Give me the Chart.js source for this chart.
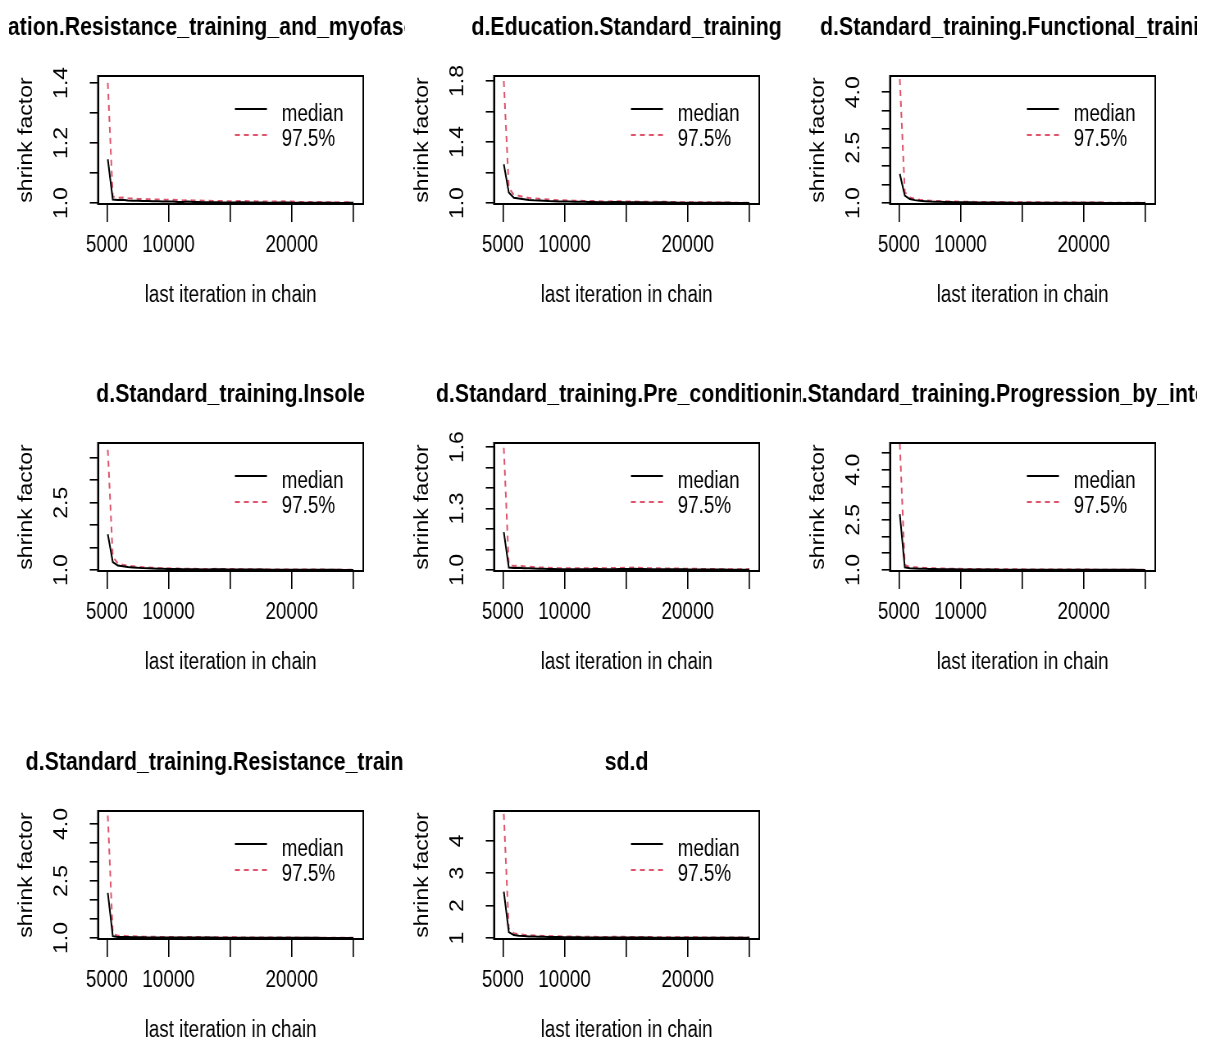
<!DOCTYPE html>
<html><head><meta charset="utf-8">
<script src="https://cdn.jsdelivr.net/npm/chart.js@4.4.0/dist/chart.umd.min.js"></script>
<style>
html,body{margin:0;padding:0;background:#fff;overflow:hidden;}
#wrap{position:relative;width:1215px;height:1044px;overflow:hidden;background:#fff;}
.panel{position:absolute;width:396px;height:367px;overflow:hidden;}
.panel canvas{position:absolute;left:0;top:0;transform:scaleX(0.82);transform-origin:0 0;}
</style></head><body><div id="wrap"></div>
<script>
// ---- data ----
const iterations = [5070,5477,5884,6290,6697,7104,7511,7918,8324,8731,9138,9545,9952,10358,10765,11172,11579,11986,12392,12799,13206,13613,14020,14426,14833,15240,15647,16053,16460,16867,17274,17681,18087,18494,18901,19308,19715,20121,20528,20935,21342,21749,22155,22562,22969,23376,23783,24189,24596,25003];

const titles = ["d.Education.Resistance_training_and_myofascial_release","d.Education.Standard_training","d.Standard_training.Functional_training","d.Standard_training.Insole","d.Standard_training.Pre_conditioning","d.Standard_training.Progression_by_intensity","d.Standard_training.Resistance_training","sd.d"];

const median1 = [1.146,1.012,1.010,1.011,1.009,1.008,1.008,1.007,1.007,1.006,1.006,1.005,1.005,1.005,1.004,1.004,1.005,1.004,1.004,1.003,1.003,1.003,1.003,1.002,1.002,1.002,1.003,1.003,1.002,1.002,1.002,1.002,1.001,1.001,1.002,1.002,1.002,1.001,1.001,1.001,1.001,1.001,1.001,1.001,1.001,1.001,1.000,1.000,1.001,1.001];
const upper1 = [1.400,1.022,1.018,1.019,1.016,1.015,1.014,1.013,1.013,1.012,1.012,1.011,1.011,1.011,1.010,1.009,1.010,1.009,1.009,1.008,1.008,1.007,1.007,1.007,1.006,1.006,1.007,1.007,1.006,1.006,1.005,1.005,1.005,1.005,1.005,1.006,1.005,1.005,1.004,1.004,1.004,1.004,1.004,1.003,1.003,1.003,1.003,1.003,1.003,1.003];
const median2 = [1.254,1.070,1.035,1.030,1.025,1.020,1.018,1.017,1.015,1.013,1.012,1.011,1.010,1.010,1.009,1.008,1.008,1.007,1.007,1.006,1.006,1.006,1.007,1.007,1.006,1.006,1.005,1.005,1.005,1.004,1.004,1.005,1.005,1.004,1.004,1.003,1.003,1.003,1.003,1.003,1.002,1.002,1.002,1.002,1.002,1.002,1.001,1.001,1.001,1.001];
const upper2 = [1.800,1.100,1.055,1.048,1.040,1.034,1.030,1.028,1.025,1.023,1.021,1.019,1.018,1.017,1.016,1.015,1.014,1.013,1.013,1.012,1.011,1.011,1.013,1.012,1.011,1.011,1.010,1.009,1.009,1.008,1.008,1.009,1.008,1.008,1.007,1.006,1.006,1.006,1.006,1.005,1.005,1.005,1.004,1.004,1.004,1.004,1.003,1.003,1.003,1.003];
const median3 = [1.790,1.200,1.110,1.080,1.060,1.050,1.042,1.038,1.034,1.030,1.028,1.025,1.023,1.021,1.020,1.018,1.017,1.016,1.015,1.014,1.013,1.013,1.012,1.012,1.011,1.011,1.010,1.010,1.010,1.009,1.009,1.008,1.008,1.008,1.007,1.007,1.007,1.006,1.006,1.006,1.006,1.005,1.005,1.005,1.005,1.004,1.004,1.004,1.004,1.004];
const upper3 = [4.360,1.300,1.150,1.110,1.090,1.075,1.065,1.058,1.052,1.048,1.044,1.041,1.038,1.036,1.034,1.032,1.030,1.029,1.027,1.026,1.025,1.024,1.023,1.022,1.021,1.021,1.020,1.019,1.019,1.018,1.017,1.017,1.016,1.016,1.015,1.015,1.014,1.014,1.013,1.013,1.013,1.012,1.012,1.012,1.011,1.011,1.011,1.010,1.010,1.010];
const median4 = [1.800,1.180,1.100,1.085,1.070,1.060,1.050,1.044,1.040,1.036,1.032,1.029,1.026,1.024,1.022,1.020,1.019,1.018,1.017,1.016,1.016,1.017,1.018,1.017,1.016,1.015,1.014,1.013,1.012,1.012,1.011,1.011,1.010,1.010,1.009,1.009,1.009,1.008,1.008,1.008,1.007,1.007,1.007,1.006,1.006,1.006,1.006,1.005,1.005,1.005];
const upper4 = [3.680,1.300,1.150,1.120,1.100,1.085,1.072,1.064,1.058,1.052,1.047,1.043,1.040,1.037,1.034,1.031,1.029,1.028,1.026,1.025,1.025,1.027,1.028,1.026,1.025,1.023,1.022,1.021,1.020,1.019,1.018,1.017,1.016,1.016,1.015,1.015,1.014,1.014,1.013,1.013,1.012,1.012,1.011,1.011,1.010,1.010,1.010,1.009,1.009,1.009];
const median5 = [1.185,1.012,1.010,1.011,1.009,1.008,1.007,1.006,1.006,1.005,1.005,1.004,1.004,1.004,1.003,1.004,1.004,1.004,1.005,1.005,1.004,1.004,1.004,1.005,1.005,1.005,1.006,1.005,1.005,1.004,1.004,1.004,1.003,1.003,1.003,1.003,1.003,1.002,1.002,1.002,1.002,1.002,1.002,1.002,1.002,1.001,1.001,1.001,1.001,1.001];
const upper5 = [1.597,1.025,1.020,1.021,1.018,1.016,1.015,1.013,1.012,1.011,1.010,1.009,1.009,1.009,1.008,1.008,1.009,1.009,1.010,1.010,1.009,1.009,1.010,1.010,1.011,1.011,1.012,1.011,1.010,1.009,1.009,1.008,1.007,1.007,1.007,1.007,1.006,1.006,1.006,1.005,1.005,1.005,1.005,1.004,1.004,1.004,1.004,1.004,1.003,1.003];
const median6 = [2.670,1.080,1.050,1.045,1.040,1.035,1.030,1.028,1.025,1.023,1.021,1.020,1.018,1.017,1.016,1.015,1.014,1.013,1.012,1.012,1.011,1.011,1.010,1.010,1.009,1.009,1.009,1.008,1.008,1.008,1.007,1.007,1.007,1.006,1.006,1.006,1.006,1.005,1.005,1.005,1.005,1.005,1.004,1.004,1.004,1.004,1.004,1.004,1.003,1.003];
const upper6 = [4.780,1.150,1.090,1.080,1.070,1.062,1.055,1.050,1.046,1.042,1.039,1.036,1.034,1.032,1.030,1.028,1.027,1.025,1.024,1.023,1.022,1.021,1.020,1.019,1.019,1.018,1.017,1.017,1.016,1.016,1.015,1.015,1.014,1.014,1.013,1.013,1.012,1.012,1.012,1.011,1.011,1.011,1.010,1.010,1.010,1.010,1.009,1.009,1.009,1.009];
const median7 = [2.190,1.050,1.030,1.028,1.025,1.022,1.020,1.018,1.017,1.016,1.015,1.014,1.013,1.013,1.012,1.012,1.013,1.014,1.015,1.014,1.013,1.012,1.011,1.011,1.010,1.010,1.009,1.009,1.008,1.008,1.008,1.007,1.007,1.007,1.006,1.006,1.006,1.006,1.005,1.005,1.005,1.005,1.005,1.004,1.004,1.004,1.004,1.004,1.003,1.003];
const upper7 = [4.220,1.110,1.060,1.055,1.050,1.045,1.040,1.037,1.034,1.032,1.030,1.028,1.026,1.025,1.024,1.023,1.025,1.027,1.028,1.026,1.024,1.023,1.022,1.021,1.020,1.019,1.018,1.017,1.016,1.016,1.015,1.014,1.014,1.013,1.013,1.012,1.012,1.012,1.011,1.011,1.011,1.010,1.010,1.010,1.009,1.009,1.009,1.009,1.008,1.008];
const median8 = [2.430,1.180,1.090,1.070,1.060,1.050,1.045,1.040,1.036,1.033,1.030,1.028,1.026,1.024,1.022,1.021,1.020,1.019,1.018,1.017,1.016,1.016,1.017,1.018,1.017,1.016,1.015,1.014,1.013,1.013,1.012,1.012,1.011,1.011,1.010,1.010,1.010,1.009,1.009,1.009,1.008,1.008,1.008,1.008,1.007,1.007,1.007,1.007,1.006,1.006];
const upper8 = [4.830,1.300,1.150,1.120,1.100,1.088,1.080,1.072,1.066,1.061,1.057,1.053,1.050,1.047,1.044,1.042,1.040,1.038,1.036,1.035,1.034,1.035,1.037,1.038,1.036,1.034,1.032,1.031,1.029,1.028,1.027,1.026,1.025,1.024,1.023,1.023,1.022,1.021,1.021,1.020,1.020,1.019,1.019,1.018,1.018,1.017,1.017,1.017,1.016,1.016];

const medians = [median1,median2,median3,median4,median5,median6,median7,median8];
const uppers  = [upper1,upper2,upper3,upper4,upper5,upper6,upper7,upper8];

const yMin = [0.997,0.994,0.975,0.98,0.995,0.97,0.975,0.97];
const yMax = [1.423,1.833,4.44,3.83,1.62,4.8,4.34,4.92];
const yTicks = [
  [1.0,1.1,1.2,1.3,1.4],
  [1.0,1.2,1.4,1.6,1.8],
  [1.0,1.5,2.0,2.5,3.0,3.5,4.0],
  [1.0,1.5,2.0,2.5,3.0,3.5],
  [1.0,1.1,1.2,1.3,1.4,1.5,1.6],
  [1.0,1.5,2.0,2.5,3.0,3.5,4.0,4.5],
  [1.0,1.5,2.0,2.5,3.0,3.5,4.0],
  [1,2,3,4]
];
const yTickLabels = [
  ["1.0","","1.2","","1.4"],
  ["1.0","","1.4","","1.8"],
  ["1.0","","","2.5","","","4.0"],
  ["1.0","","","2.5","",""],
  ["1.0","","","1.3","","","1.6"],
  ["1.0","","","2.5","","","4.0",""],
  ["1.0","","","2.5","","","4.0"],
  ["1","2","3","4"]
];
const xRange = [4274, 25806];
const xTicks = [5000,10000,15000,20000,25000];
const xTickLabels = ["5000","10000","","20000",""];
const seriesNames = ["median","97.5%"];
const xTitle = "last iteration in chain";
const yTitle = "shrink factor";

// ---- drawing ----
const FONT = "'Liberation Sans', Arial, Helvetica, sans-serif";
const RED = '#DF536B';

const rPlotPlugin = {
  id: 'rplot',
  afterDraw(chart, args, opts) {
    const {ctx, chartArea: a} = chart;
    ctx.save();
    ctx.strokeStyle = '#000';
    ctx.lineWidth = 2;
    ctx.strokeRect(a.left, a.top, a.right - a.left, a.bottom - a.top);
    // rotated y tick labels
    const ys = chart.scales.y;
    ctx.fillStyle = '#000';
    ctx.font = `23px ${FONT}`;
    ctx.textAlign = 'center';
    ctx.textBaseline = 'middle';
    opts.yTicks.forEach((v, i) => {
      const lab = opts.yLabels[i];
      if (!lab) return;
      const py = ys.getPixelForValue(v);
      ctx.save();
      ctx.translate(a.left - 44, py);
      ctx.rotate(-Math.PI / 2);
      ctx.fillText(lab, 0, 0);
      ctx.restore();
    });
    // legend (top right, no box)
    const lx0 = a.left + 167, lx1 = a.left + 206, tx = a.left + 224;
    ctx.lineWidth = 1.8;
    ctx.strokeStyle = '#000';
    ctx.setLineDash([]);
    ctx.beginPath(); ctx.moveTo(lx0, a.top + 33); ctx.lineTo(lx1, a.top + 33); ctx.stroke();
    ctx.strokeStyle = RED;
    ctx.setLineDash([6, 5]);
    ctx.beginPath(); ctx.moveTo(lx0, a.top + 59); ctx.lineTo(lx1, a.top + 59); ctx.stroke();
    ctx.setLineDash([]);
    ctx.textAlign = 'left';
    ctx.textBaseline = 'alphabetic';
    ctx.fillText(seriesNames[0], tx, a.top + 44.5);
    ctx.fillText(seriesNames[1], tx, a.top + 70);
    // panel title centred over the plot region
    ctx.font = `bold 26px ${FONT}`;
    ctx.textAlign = 'center';
    ctx.fillText(opts.title, (a.left + a.right) / 2, 35);
    ctx.restore();
  }
};

const wrap = document.getElementById('wrap');
const rowTops = [0, 367, 735];

titles.forEach((title, i) => {
  const col = i % 3, row = Math.floor(i / 3);
  const div = document.createElement('div');
  div.className = 'panel';
  div.style.left = (9 + 396 * col) + 'px';
  div.style.top = rowTops[row] + 'px';
  const cv = document.createElement('canvas');
  cv.width = 540; cv.height = 367;
  div.appendChild(cv);
  wrap.appendChild(div);

  const med = iterations.map((x, k) => ({x, y: medians[i][k]}));
  const up = iterations.map((x, k) => ({x, y: uppers[i][k]}));

  new Chart(cv, {
    type: 'line',
    data: {
      datasets: [
        {label: seriesNames[0], data: med, borderColor: '#000', borderWidth: 2, pointRadius: 0, tension: 0, fill: false},
        {label: seriesNames[1], data: up, borderColor: RED, borderWidth: 2, borderDash: [6, 5], pointRadius: 0, tension: 0, fill: false}
      ]
    },
    options: {
      responsive: false,
      animation: false,
      devicePixelRatio: 1,
      events: [],
      layout: {padding: {top: 76, right: 108, bottom: 0, left: 0}},
      plugins: {
        legend: {display: false},
        tooltip: {enabled: false},
        title: {display: false},
        rplot: {title: title, yTicks: yTicks[i], yLabels: yTickLabels[i]}
      },
      scales: {
        x: {
          type: 'linear', position: 'bottom',
          min: xRange[0], max: xRange[1],
          afterBuildTicks: s => { s.ticks = xTicks.map(v => ({value: v})); },
          afterFit: s => { s.height = 163; },
          grid: {drawOnChartArea: false, drawTicks: true, tickLength: 18, color: '#000', lineWidth: 1.6},
          border: {display: true, color: '#000', width: 2},
          ticks: {autoSkip: false, maxRotation: 0, minRotation: 0, padding: 10, color: '#000',
                  font: {family: FONT, size: 23}, callback: (v, k) => xTickLabels[k]},
          title: {display: true, text: xTitle, color: '#000', font: {family: FONT, size: 23}, padding: {top: 0, bottom: 58}}
        },
        y: {
          type: 'linear', position: 'left',
          min: yMin[i], max: yMax[i],
          afterBuildTicks: s => { s.ticks = yTicks[i].map(v => ({value: v})); },
          afterFit: s => { s.width = 108.5; },
          grid: {drawOnChartArea: false, drawTicks: true, tickLength: 10, color: '#000', lineWidth: 1.6},
          border: {display: true, color: '#000', width: 2},
          ticks: {display: false},
          title: {display: true, text: yTitle, color: '#000', font: {family: FONT, size: 23}, padding: {top: 8, bottom: 0}}
        }
      }
    },
    plugins: [rPlotPlugin]
  });
});
</script>
</body></html>
